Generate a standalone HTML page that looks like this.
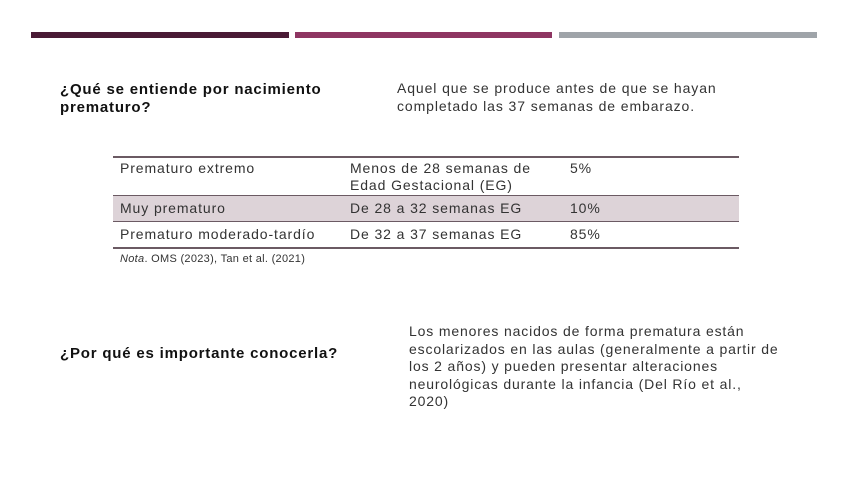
<!DOCTYPE html>
<html><head><meta charset="utf-8"><style>
body{margin:0;width:848px;height:477px;background:#fff;position:relative;overflow:hidden;font-family:"Liberation Sans",sans-serif;color:#222}
.bar{position:absolute;top:32px;height:6px}
.t{position:absolute;font-size:14px;line-height:17.5px;white-space:nowrap}
.h{color:#111;font-weight:bold;letter-spacing:0.8px;font-size:15px}
.line{position:absolute;left:113px;width:626px;height:1px;background:#6b5a63}
.c{position:absolute;font-size:14px;line-height:17px;white-space:nowrap;letter-spacing:0.9px;color:#333}
</style></head><body>
<div class="bar" style="left:31px;width:258px;background:#4a1a35"></div>
<div class="bar" style="left:295px;width:257px;background:#8e3562"></div>
<div class="bar" style="left:559px;width:258px;background:#9fa4a9"></div>

<div class="t h" style="left:60px;top:81px">¿Qué se entiende por nacimiento<br>prematuro?</div>
<div class="t" style="left:397px;top:80px;letter-spacing:0.9px;color:#333">Aquel que se produce antes de que se hayan<br>completado las 37 semanas de embarazo.</div>

<div class="line" style="top:156px;height:1.5px"></div>
<div style="position:absolute;left:113px;top:196px;width:626px;height:25px;background:#ddd3d8"></div>
<div class="line" style="top:195px"></div>
<div class="line" style="top:221px"></div>
<div class="line" style="top:247px;height:1.5px"></div>
<div class="c" style="left:120px;top:160px">Prematuro extremo</div>
<div class="c" style="left:350px;top:160px">Menos de 28 semanas de<br>Edad Gestacional (EG)</div>
<div class="c" style="left:570px;top:160px">5%</div>
<div class="c" style="left:120px;top:200px">Muy prematuro</div>
<div class="c" style="left:350px;top:200px">De 28 a 32 semanas EG</div>
<div class="c" style="left:570px;top:200px">10%</div>
<div class="c" style="left:120px;top:226px">Prematuro moderado-tardío</div>
<div class="c" style="left:350px;top:226px">De 32 a 37 semanas EG</div>
<div class="c" style="left:570px;top:226px">85%</div>
<div class="t" style="left:120px;top:251px;font-size:11px;letter-spacing:0.3px;color:#333"><i>Nota</i>. OMS (2023), Tan et al. (2021)</div>

<div class="t h" style="left:60px;top:345px">¿Por qué es importante conocerla?</div>
<div class="t" style="left:409px;top:323px;letter-spacing:0.85px;color:#333">Los menores nacidos de forma prematura están<br>escolarizados en las aulas (generalmente a partir de<br>los 2 años) y pueden presentar alteraciones<br>neurológicas durante la infancia (Del Río et al.,<br>2020)</div>
</body></html>
